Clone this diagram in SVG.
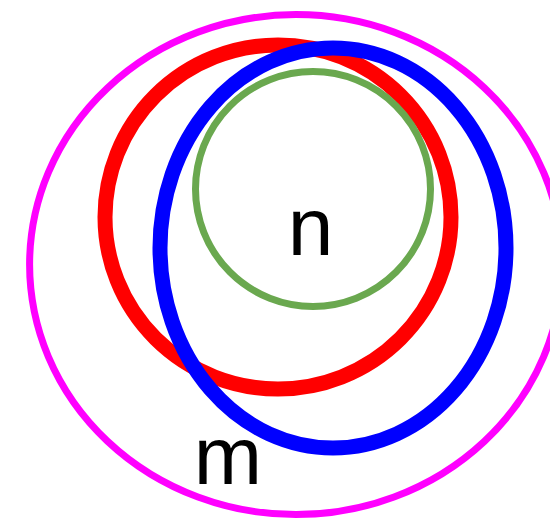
<svg xmlns="http://www.w3.org/2000/svg" width="550" height="519" viewBox="0 0 550 519">
<style>
.e{fill:none}
.t{font-family:"Liberation Sans",Arial,sans-serif;font-size:82px;fill:#000;text-anchor:middle}
</style>
<rect width="550" height="519" fill="#fff"/>
<g id="m-set"><ellipse class="e" cx="296" cy="264.6" rx="266.4" ry="250" stroke="#ff00ff" stroke-width="7"/></g>
<g id="red-set"><ellipse class="e" cx="278" cy="217" rx="173" ry="172" stroke="#ff0000" stroke-width="15"/></g>
<g id="blue-set"><ellipse class="e" cx="333" cy="248" rx="173" ry="200" stroke="#0000ff" stroke-width="15"/></g>
<g id="n-set"><ellipse class="e" cx="313" cy="189" rx="117.5" ry="117.5" stroke="#6aa84f" stroke-width="7"/></g>
<g id="labels">
<text class="t" x="310.5" y="255">n</text>
<text class="t" x="228" y="484">m</text>
</g>
<g id="connectors"/>
</svg>
